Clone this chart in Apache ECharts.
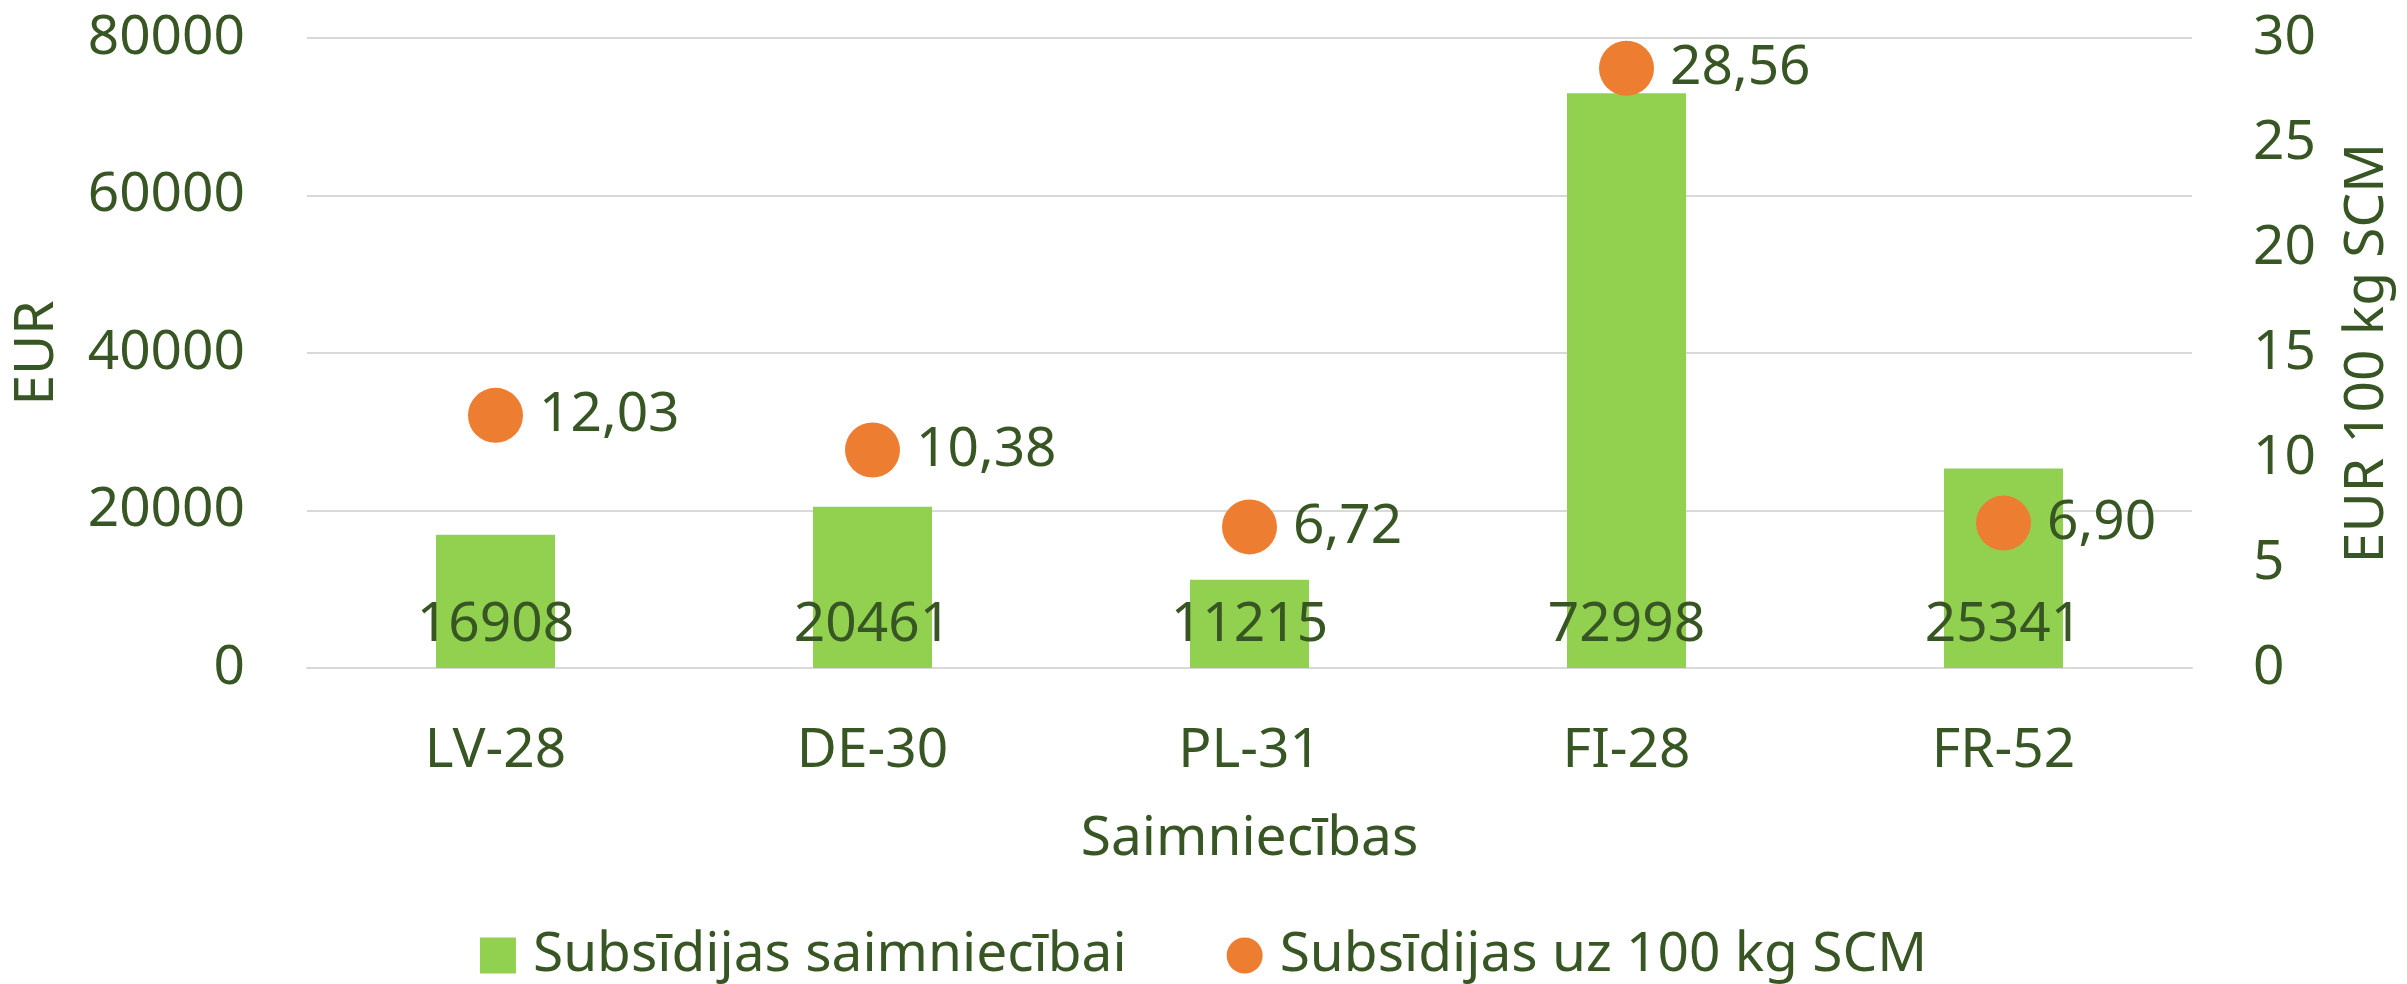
<!DOCTYPE html>
<html>
<head>
<meta charset="utf-8">
<script src="https://cdn.jsdelivr.net/npm/echarts@6/dist/echarts.min.js"></script>
<style>
  html, body { margin: 0; padding: 0; background: #fff; }
  #chart { width: 2407px; height: 984px; }
</style>
</head>
<body>
<div id="chart"></div>
<script>
// data
var farms = ['LV-28', 'DE-30', 'PL-31', 'FI-28', 'FR-52'];
var perFarm = [16908, 20461, 11215, 72998, 25341];
var per100kg = [12.03, 10.38, 6.72, 28.56, 6.90];
var leftTicks = { min: 0, max: 80000, interval: 20000 };
var rightTicks = { min: 0, max: 30, interval: 5 };

var txt = '#375623';
var font = 'Noto Sans';

var chart = echarts.init(document.getElementById('chart'));
chart.setOption({
  backgroundColor: '#fff',
  textStyle: { fontFamily: font, color: txt },
  grid: { left: 307, right: 215, top: 38, bottom: 316 },
  legend: {
    bottom: -4,
    left: 'center',
    itemWidth: 36,
    itemHeight: 36,
    itemGap: 100,
    textStyle: { fontFamily: font, fontSize: 55, color: txt, padding: [0, 0, 0, 12] },
    data: [
      { name: 'Subsīdijas saimniecībai', icon: 'rect' },
      { name: 'Subsīdijas uz 100 kg SCM', icon: 'circle' }
    ]
  },
  xAxis: {
    type: 'category',
    data: farms,
    name: 'Saimniecības',
    nameLocation: 'middle',
    nameGap: 144,
    nameTextStyle: { fontSize: 55, color: txt },
    axisLine: { lineStyle: { color: '#D9D9D9', width: 2 } },
    axisTick: { show: false },
    axisLabel: { fontSize: 55, color: txt, margin: 56 }
  },
  yAxis: [{
    type: 'value',
    min: leftTicks.min, max: leftTicks.max, interval: leftTicks.interval,
    name: 'EUR',
    nameLocation: 'middle',
    nameGap: 242,
    nameTextStyle: { fontSize: 55, color: txt },
    axisLabel: { fontSize: 55, color: txt, margin: 62, formatter: function (v) { return String(v); } },
    splitLine: { lineStyle: { color: '#D9D9D9', width: 2 } },
    axisLine: { show: false },
    axisTick: { show: false }
  }, {
    type: 'value',
    min: rightTicks.min, max: rightTicks.max, interval: rightTicks.interval,
    name: 'EUR 100 kg SCM',
    nameLocation: 'middle',
    nameGap: 148,
    nameTextStyle: { fontSize: 55, color: txt },
    axisLabel: { fontSize: 55, color: txt, margin: 61, formatter: function (v) { return String(v); } },
    splitLine: { show: false },
    axisLine: { show: false },
    axisTick: { show: false }
  }],
  series: [{
    name: 'Subsīdijas saimniecībai',
    type: 'bar',
    data: perFarm,
    barWidth: 119,
    itemStyle: { color: '#92D050' },
    label: {
      show: true,
      position: 'insideBottom',
      distance: 15,
      fontSize: 55,
      color: txt,
      fontFamily: font
    }
  }, {
    name: 'Subsīdijas uz 100 kg SCM',
    type: 'scatter',
    yAxisIndex: 1,
    data: per100kg,
    symbol: 'circle',
    symbolSize: 55,
    itemStyle: { color: '#ED7D31', opacity: 1 },
    label: {
      show: true,
      position: 'right',
      distance: 16,
      fontSize: 55,
      color: txt,
      fontFamily: font,
      formatter: function (p) { return p.value.toFixed(2).replace('.', ','); }
    },
    emphasis: { disabled: true }
  }]
});
</script>
</body>
</html>
